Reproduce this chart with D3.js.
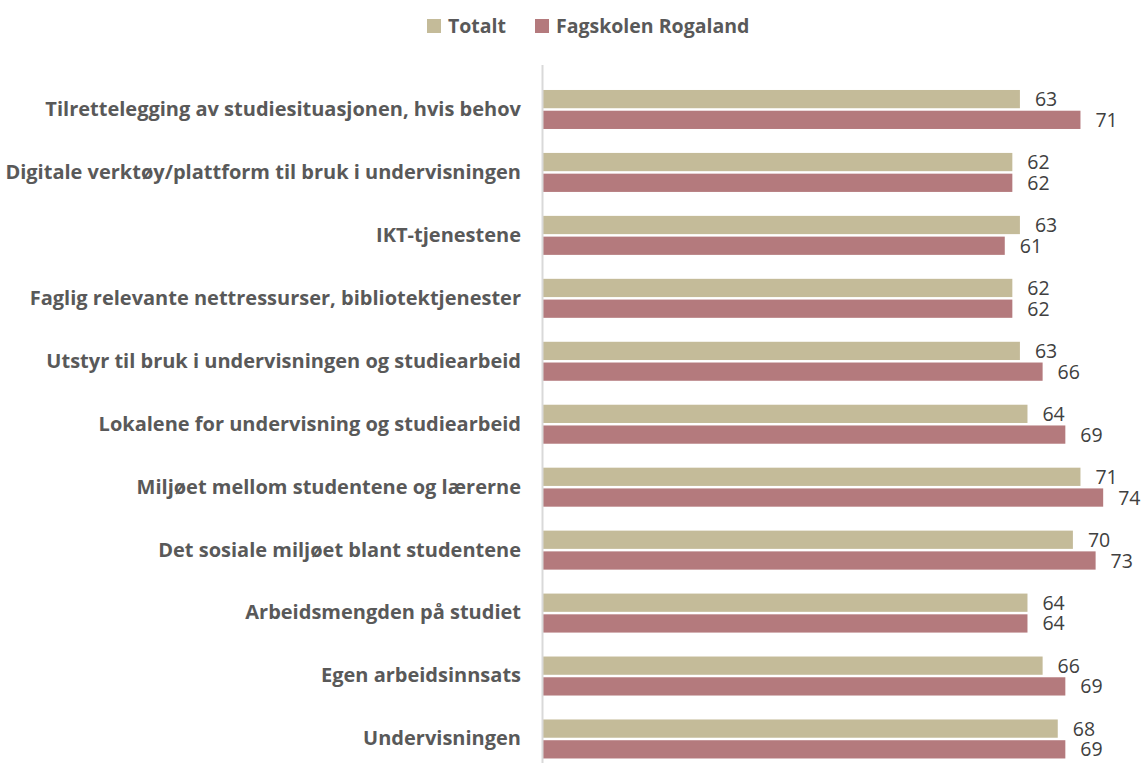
<!DOCTYPE html>
<html>
<head>
<meta charset="utf-8">
<script src="https://cdn.jsdelivr.net/npm/d3@7"></script>
<style>
  body { margin: 0; background: #fff; }
  svg { display: block; }
</style>
</head>
<body>
<div id="chart"></div>
<script>
// categories, top to bottom
var categories = [
  "Tilrettelegging av studiesituasjonen, hvis behov",
  "Digitale verktøy/plattform til bruk i undervisningen",
  "IKT-tjenestene",
  "Faglig relevante nettressurser, bibliotektjenester",
  "Utstyr til bruk i undervisningen og studiearbeid",
  "Lokalene for undervisning og studiearbeid",
  "Miljøet mellom studentene og lærerne",
  "Det sosiale miljøet blant studentene",
  "Arbeidsmengden på studiet",
  "Egen arbeidsinnsats",
  "Undervisningen"
];
var seriesNames = ["Totalt", "Fagskolen Rogaland"];
var totalt = [63, 62, 63, 62, 63, 64, 71, 70, 64, 66, 68];
var fagskolen = [71, 62, 61, 62, 66, 69, 74, 73, 64, 69, 69];
var colors = ["#c4bb99", "#b47a7d"];

var width = 1144, height = 763;
var margin = { top: 78, left: 543, right: 0, bottom: 0 };

var svg = d3.select("#chart").append("svg")
  .attr("width", width)
  .attr("height", height);

var data = categories.map(function (c, i) {
  return { cat: c, values: [totalt[i], fagskolen[i]] };
});

// scales
var x = d3.scaleLinear().domain([0, 80]).range([margin.left, margin.left + 80 * 7.57]);
var y0 = d3.scaleBand().domain(categories).range([margin.top, margin.top + 62.95 * categories.length]).paddingInner(0).paddingOuter(0);
var y1 = d3.scaleBand().domain([0, 1]).range([y0.bandwidth() / 2 - 19.5, y0.bandwidth() / 2 + 19.5]).paddingInner(0.12);

// bars
var groups = svg.append("g").attr("class", "bars")
  .selectAll("g")
  .data(data)
  .enter().append("g")
  .attr("transform", function (d) { return "translate(0," + y0(d.cat) + ")"; });

groups.selectAll("rect")
  .data(function (d) { return d.values; })
  .enter().append("rect")
  .attr("x", x(0))
  .attr("y", function (d, i) { return y1(i); })
  .attr("width", function (d) { return x(d) - x(0); })
  .attr("height", y1.bandwidth())
  .attr("fill", function (d, i) { return colors[i]; });

// value labels
groups.selectAll("text")
  .data(function (d) { return d.values; })
  .enter().append("text")
  .attr("x", function (d) { return x(d) + 15; })
  .attr("y", function (d, i) { return y1(i) + y1.bandwidth() / 2; })
  .attr("dy", "0.36em")
  .attr("font-family", "'Open Sans', sans-serif")
  .attr("font-size", 19.5)
  .attr("fill", "#404040")
  .text(function (d) { return d; });

// category axis
var yAxis = svg.append("g")
  .attr("class", "axis axis-y")
  .attr("transform", "translate(" + x(0) + ",0)")
  .call(d3.axisLeft(y0).tickSize(0).tickPadding(22));
yAxis.select(".domain").remove();
yAxis.append("line")
  .attr("x1", -0.5).attr("x2", -0.5)
  .attr("y1", 65).attr("y2", height)
  .attr("stroke", "#d9d9d9")
  .attr("stroke-width", 2);
yAxis.selectAll(".tick text")
  .attr("font-family", "'Open Sans', sans-serif")
  .attr("font-weight", "bold")
  .attr("font-size", 20)
  .attr("fill", "#595959");

// legend
var legendX = [427, 535];
var legend = svg.append("g").attr("class", "legend")
  .selectAll("g")
  .data(seriesNames)
  .enter().append("g")
  .attr("transform", function (d, i) { return "translate(" + legendX[i] + ",19)"; });
legend.append("rect")
  .attr("width", 14).attr("height", 14)
  .attr("fill", function (d, i) { return colors[i]; });
legend.append("text")
  .attr("x", 21).attr("y", 7).attr("dy", "0.36em")
  .attr("font-family", "'Open Sans', sans-serif")
  .attr("font-weight", "bold")
  .attr("font-size", 19.5)
  .attr("fill", "#595959")
  .text(function (d) { return d; });
</script>
</body>
</html>
